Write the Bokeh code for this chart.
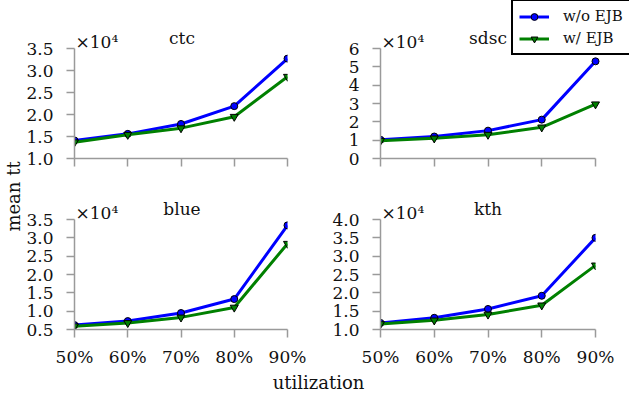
import math
from bokeh.plotting import figure
from bokeh.layouts import row, column
from bokeh.models import (Label, Legend, LegendItem, FixedTicker,
                          CustomJSTickFormatter, Range1d, LinearAxis)
from bokeh.embed import file_html
from bokeh.resources import INLINE

# ---- data ----
utilization = [50, 60, 70, 80, 90]
util_labels = ["50%", "60%", "70%", "80%", "90%"]

ctc_wo = [14100, 15600, 17850, 21900, 32700]
ctc_w = [13700, 15400, 16900, 19500, 28600]
sdsc_wo = [10200, 12000, 15200, 21200, 53000]
sdsc_w = [9700, 11000, 13000, 17000, 29600]
blue_wo = [6200, 7300, 9500, 13300, 33400]
blue_w = [5900, 6800, 8300, 11000, 28400]
kth_wo = [11800, 13200, 15600, 19200, 35000]
kth_w = [11500, 12500, 14100, 16600, 27500]

ctc_ticks = [10000, 15000, 20000, 25000, 30000, 35000]
sdsc_ticks = [0, 10000, 20000, 30000, 40000, 50000, 60000]
blue_ticks = [5000, 10000, 15000, 20000, 25000, 30000, 35000]
kth_ticks = [10000, 15000, 20000, 25000, 30000, 35000, 40000]

series_names = ["w/o EJB", "w/ EJB"]
y_label = "mean tt"
x_label = "utilization"

FONT = "DejaVu Serif"
GRAY = "#9a9a9a"
TXT = "#111111"
FS = "17px"

LEFT_STRIP = 23
DATA_W = 215
DATA_H = 110


def panel(title, wo, w, ticks, decimals, left, right, top_extra, bottom,
          width, height, show_xlabels, right_extra=0, legend=False):
    frame_h = DATA_H + top_extra
    frame_w = DATA_W + right_extra
    x0, x1 = utilization[0], utilization[-1]
    t0, t1 = ticks[0], ticks[-1]
    p = figure(width=width, height=height, output_backend="svg",
               toolbar_location=None, min_border_left=left,
               min_border_right=right, min_border_top=0,
               min_border_bottom=bottom,
               x_range=Range1d(x0, x0 + (x1 - x0) * frame_w / DATA_W),
               y_range=Range1d(t0, t0 + (t1 - t0) * frame_h / DATA_H))
    p.outline_line_color = None
    p.grid.visible = False
    p.background_fill_color = "white"
    p.border_fill_color = "white"

    l1 = p.line(utilization, wo, line_color="#0000ff", line_width=3)
    s1 = p.scatter(utilization, wo, marker="circle", size=7,
                   fill_color="#0000ff", line_color="black", line_width=1)
    l2 = p.line(utilization, w, line_color="#008000", line_width=3)
    s2 = p.scatter(utilization, w, marker="inverted_triangle", size=8,
                   fill_color="#008000", line_color="black", line_width=1)

    for ax in (p.xaxis[0], p.yaxis[0]):
        ax.axis_line_color = GRAY
        ax.axis_line_width = 1.5
        ax.major_tick_line_color = GRAY
        ax.major_tick_line_width = 1.5
        ax.major_tick_out = 8
        ax.major_tick_in = 0
        ax.minor_tick_out = 0
        ax.minor_tick_in = 0
        ax.major_label_text_font = FONT
        ax.major_label_text_font_size = FS
        ax.major_label_text_color = TXT

    p.xaxis.bounds = (x0, x1)
    p.xaxis.ticker = FixedTicker(ticks=utilization)
    p.xaxis.major_label_overrides = {u: lab for u, lab in zip(utilization, util_labels)}
    p.xaxis.major_label_standoff = 9
    if not show_xlabels:
        p.xaxis.major_label_text_color = None
        p.xaxis.major_label_standoff = 0

    p.yaxis.bounds = (t0, t1)
    p.yaxis.ticker = FixedTicker(ticks=ticks)
    p.yaxis.formatter = CustomJSTickFormatter(
        args=dict(d=decimals), code="return (tick/10000).toFixed(d);")
    p.yaxis.major_label_standoff = 13

    p.add_layout(Label(x=DATA_W / 2, y=DATA_H + 11, x_units="screen",
                       y_units="screen", text=title, text_font=FONT,
                       text_font_size=FS, text_align="center",
                       text_baseline="alphabetic", text_color=TXT))
    p.add_layout(Label(x=1, y=DATA_H + 7, x_units="screen",
                       y_units="screen", text="×10⁴", text_font=FONT,
                       text_font_size=FS, text_align="left",
                       text_baseline="alphabetic", text_color=TXT))

    if legend:
        lg = Legend(items=[LegendItem(label=series_names[0], renderers=[l1, s1]),
                           LegendItem(label=series_names[1], renderers=[l2, s2])],
                    location=(131, 103))
        lg.label_text_font = FONT
        lg.label_text_font_size = "15px"
        lg.label_text_color = TXT
        lg.border_line_color = "black"
        lg.border_line_alpha = 1.0
        lg.border_line_width = 2
        lg.padding = 6
        lg.spacing = 4
        lg.glyph_width = 30
        lg.glyph_height = 17
        lg.label_height = 17
        lg.label_standoff = 14
        lg.margin = 0
        lg.background_fill_color = "white"
        lg.background_fill_alpha = 1
        p.add_layout(lg, "center")
    return p


w_left = 314 - LEFT_STRIP
w_right = 629 - 314
p1 = panel("ctc", ctc_wo, ctc_w, ctc_ticks, 1, 72 - LEFT_STRIP, 27, 48, 32,
           w_left, 190, False)
p2 = panel("sdsc", sdsc_wo, sdsc_w, sdsc_ticks, 0, 66, 0, 48, 32,
           w_right, 190, False, right_extra=34, legend=True)
p3 = panel("blue", blue_wo, blue_w, blue_ticks, 1, 72 - LEFT_STRIP, 27, 29, 42,
           w_left, 181, True)
p4 = panel("kth", kth_wo, kth_w, kth_ticks, 1, 66, 34, 29, 42,
           w_right, 181, True)


def strip(width, height, **borders):
    s = figure(width=width, height=height, output_backend="svg",
               toolbar_location=None, x_range=Range1d(0, 1),
               y_range=Range1d(0, 1), x_axis_location=None,
               y_axis_location=None, **borders)
    s.outline_line_color = None
    s.grid.visible = False
    s.border_fill_color = "white"
    s.background_fill_color = "white"
    return s


def label_axis(text):
    ax = LinearAxis(ticker=FixedTicker(ticks=[]), axis_label=text)
    ax.axis_line_color = None
    ax.major_tick_out = 0
    ax.major_tick_in = 0
    ax.minor_tick_out = 0
    ax.minor_tick_in = 0
    ax.axis_label_standoff = 0
    ax.axis_label_text_font = FONT
    ax.axis_label_text_font_size = "18px"
    ax.axis_label_text_font_style = "normal"
    ax.axis_label_text_color = TXT
    return ax


ys = strip(LEFT_STRIP, 394, min_border_left=LEFT_STRIP - 2, min_border_right=0,
           min_border_top=0, min_border_bottom=2)
ys.add_layout(label_axis(y_label), "left")

xs_w = 629 - LEFT_STRIP
xs = strip(xs_w, 23, min_border_left=0, min_border_right=xs_w - 2 * (318 - LEFT_STRIP),
           min_border_top=0, min_border_bottom=22)
xs.add_layout(label_axis(x_label), "below")

layout = row(ys, column(row(p1, p2), row(p3, p4), xs))

open("out.html", "w").write(file_html(layout, INLINE))
